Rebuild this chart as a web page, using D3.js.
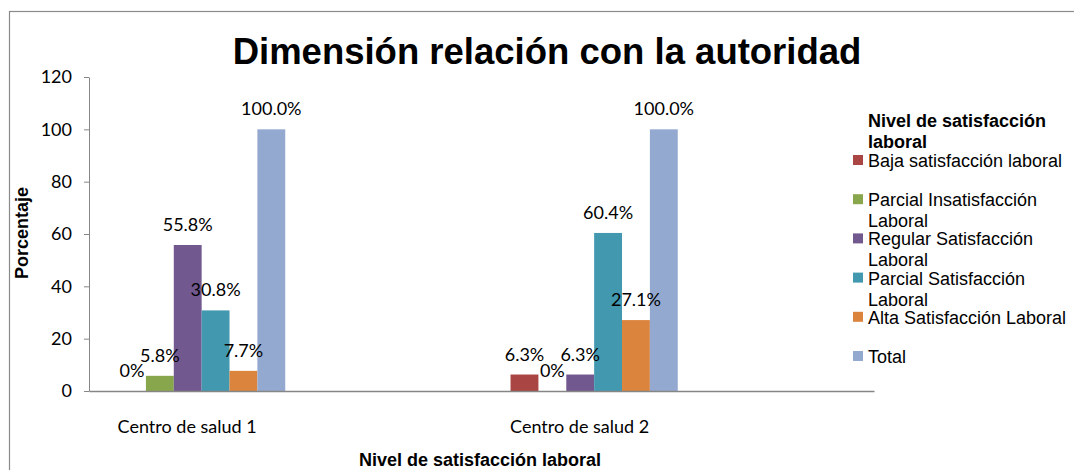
<!DOCTYPE html>
<html lang="es">
  <head>
    <meta charset="UTF-8" />
    <title>Dimensión relación con la autoridad</title>
    <script src="https://d3js.org/d3.v7.min.js"></script>
    <style>
      body { margin: 0; background: #fff; }
      .chart text { fill: #000; }
    </style>
  </head>
  <body>
    <div class="chart"></div>
  </body>

  <script>
    // datos
    var categories = ["Centro de salud 1", "Centro de salud 2"];
    var seriesNames = [
      "Baja satisfacción laboral",
      "Parcial Insatisfacción Laboral",
      "Regular Satisfacción Laboral",
      "Parcial Satisfacción Laboral",
      "Alta Satisfacción Laboral",
      "Total"
    ];
    var bajaSatisfaccion = [0, 6.3];
    var parcialInsatisfaccion = [5.8, 0];
    var regularSatisfaccion = [55.8, 6.3];
    var parcialSatisfaccion = [30.8, 60.4];
    var altaSatisfaccion = [7.7, 27.1];
    var total = [100, 100];
    var yTicks = [0, 20, 40, 60, 80, 100, 120];

    // texto de leyenda partido en líneas como en el original
    var legendLines = [
      ["Baja satisfacción laboral"],
      ["Parcial Insatisfacción", "Laboral"],
      ["Regular Satisfacción", "Laboral"],
      ["Parcial Satisfacción", "Laboral"],
      ["Alta Satisfacción Laboral"],
      ["Total"]
    ];
    var colors = ["#A94542", "#88A64B", "#71588F", "#4198AF", "#DB843D", "#93A9CF"];

    var seriesValues = [
      bajaSatisfaccion,
      parcialInsatisfaccion,
      regularSatisfaccion,
      parcialSatisfaccion,
      altaSatisfaccion,
      total
    ];

    var W = 1074, H = 470;
    var plot = { left: 89, right: 874, top: 77, bottom: 391 };
    var bodyFont = "Lato, 'Open Sans', sans-serif";
    var arial = "'Liberation Sans', Arial, sans-serif";

    var svg = d3.select(".chart").append("svg")
      .attr("width", W)
      .attr("height", H);

    // marco exterior
    svg.append("rect")
      .attr("x", 9.5).attr("y", 11.5)
      .attr("width", W).attr("height", H)
      .attr("fill", "#fff")
      .attr("stroke", "#8a8a8a")
      .attr("stroke-width", 1.2);

    var x0 = d3.scaleBand().domain(categories).range([plot.left, plot.right]);
    var bw = x0.bandwidth();
    var x1 = d3.scaleBand().domain(seriesNames).range([bw * 0.074, bw * 0.5]);
    var y = d3.scaleLinear().domain([0, 120]).range([plot.bottom, plot.top]);
    var color = d3.scaleOrdinal().domain(seriesNames).range(colors);

    // eje Y
    var yAxis = d3.axisLeft(y).tickValues(yTicks).tickSize(5).tickSizeOuter(0).tickPadding(12);
    var gy = svg.append("g").attr("transform", "translate(" + plot.left + ",0)").call(yAxis);
    gy.selectAll("path, line").attr("stroke", "#868686");
    gy.selectAll("text")
      .style("font-family", bodyFont)
      .style("font-size", "18px");

    // barras
    var rows = [];
    categories.forEach(function (c, ci) {
      seriesNames.forEach(function (s, si) {
        rows.push({ cat: c, series: s, value: seriesValues[si][ci] });
      });
    });

    svg.append("g").selectAll("rect")
      .data(rows)
      .enter()
      .append("rect")
      .attr("x", function (d) { return x0(d.cat) + x1(d.series); })
      .attr("y", function (d) { return y(d.value); })
      .attr("width", x1.bandwidth())
      .attr("height", function (d) { return y(0) - y(d.value); })
      .attr("fill", function (d) { return color(d.series); });

    // eje X (encima de las barras)
    var xAxis = d3.axisBottom(x0).tickSize(0).tickSizeOuter(0).tickPadding(0);
    var gx = svg.append("g").attr("transform", "translate(0," + plot.bottom + ")").call(xAxis);
    gx.select("path").attr("stroke", "#868686").attr("stroke-width", 1.5);
    gx.selectAll("text")
      .attr("dy", 0)
      .attr("y", 42)
      .attr("x", -bw / 4)
      .style("font-family", bodyFont)
      .style("font-size", "18px");

    // etiquetas de datos
    svg.append("g").selectAll("text")
      .data(rows)
      .enter()
      .append("text")
      .attr("x", function (d) { return x0(d.cat) + x1(d.series) + x1.bandwidth() / 2; })
      .attr("y", function (d) { return y(d.value) - 14; })
      .attr("text-anchor", "middle")
      .style("font-family", bodyFont)
      .style("font-size", "18px")
      .text(function (d) { return d.value === 0 ? "0%" : d.value.toFixed(1) + "%"; });

    // título
    svg.append("text")
      .attr("x", 547).attr("y", 64)
      .attr("text-anchor", "middle")
      .style("font-family", arial)
      .style("font-weight", "bold")
      .style("font-size", "36.5px")
      .text("Dimensión relación con la autoridad");

    // títulos de ejes
    svg.append("text")
      .attr("transform", "translate(28,233) rotate(-90)")
      .attr("text-anchor", "middle")
      .style("font-family", arial)
      .style("font-weight", "bold")
      .style("font-size", "18px")
      .text("Porcentaje");

    svg.append("text")
      .attr("x", 480).attr("y", 466)
      .attr("text-anchor", "middle")
      .style("font-family", arial)
      .style("font-weight", "bold")
      .style("font-size", "18px")
      .text("Nivel de satisfacción laboral");

    // leyenda
    var legend = svg.append("g").attr("transform", "translate(868,0)");
    legend.append("text")
      .attr("y", 127)
      .style("font-family", arial)
      .style("font-weight", "bold")
      .style("font-size", "18px")
      .selectAll("tspan")
      .data(["Nivel de satisfacción", "laboral"])
      .enter()
      .append("tspan")
      .attr("x", 0)
      .attr("dy", function (d, i) { return i === 0 ? 0 : 21; })
      .text(function (d) { return d; });

    var item = legend.selectAll("g.item")
      .data(seriesNames)
      .enter()
      .append("g")
      .attr("class", "item")
      .attr("transform", function (d, i) { return "translate(0," + (167 + i * 39.2) + ")"; });

    item.append("rect")
      .attr("x", -15).attr("y", -12)
      .attr("width", 10).attr("height", 10)
      .attr("fill", function (d) { return color(d); });

    item.append("text")
      .style("font-family", arial)
      .style("font-size", "18px")
      .selectAll("tspan")
      .data(function (d, i) { return legendLines[i]; })
      .enter()
      .append("tspan")
      .attr("x", 0)
      .attr("dy", function (d, i) { return i === 0 ? 0 : 21; })
      .text(function (d) { return d; });
  </script>
</html>
